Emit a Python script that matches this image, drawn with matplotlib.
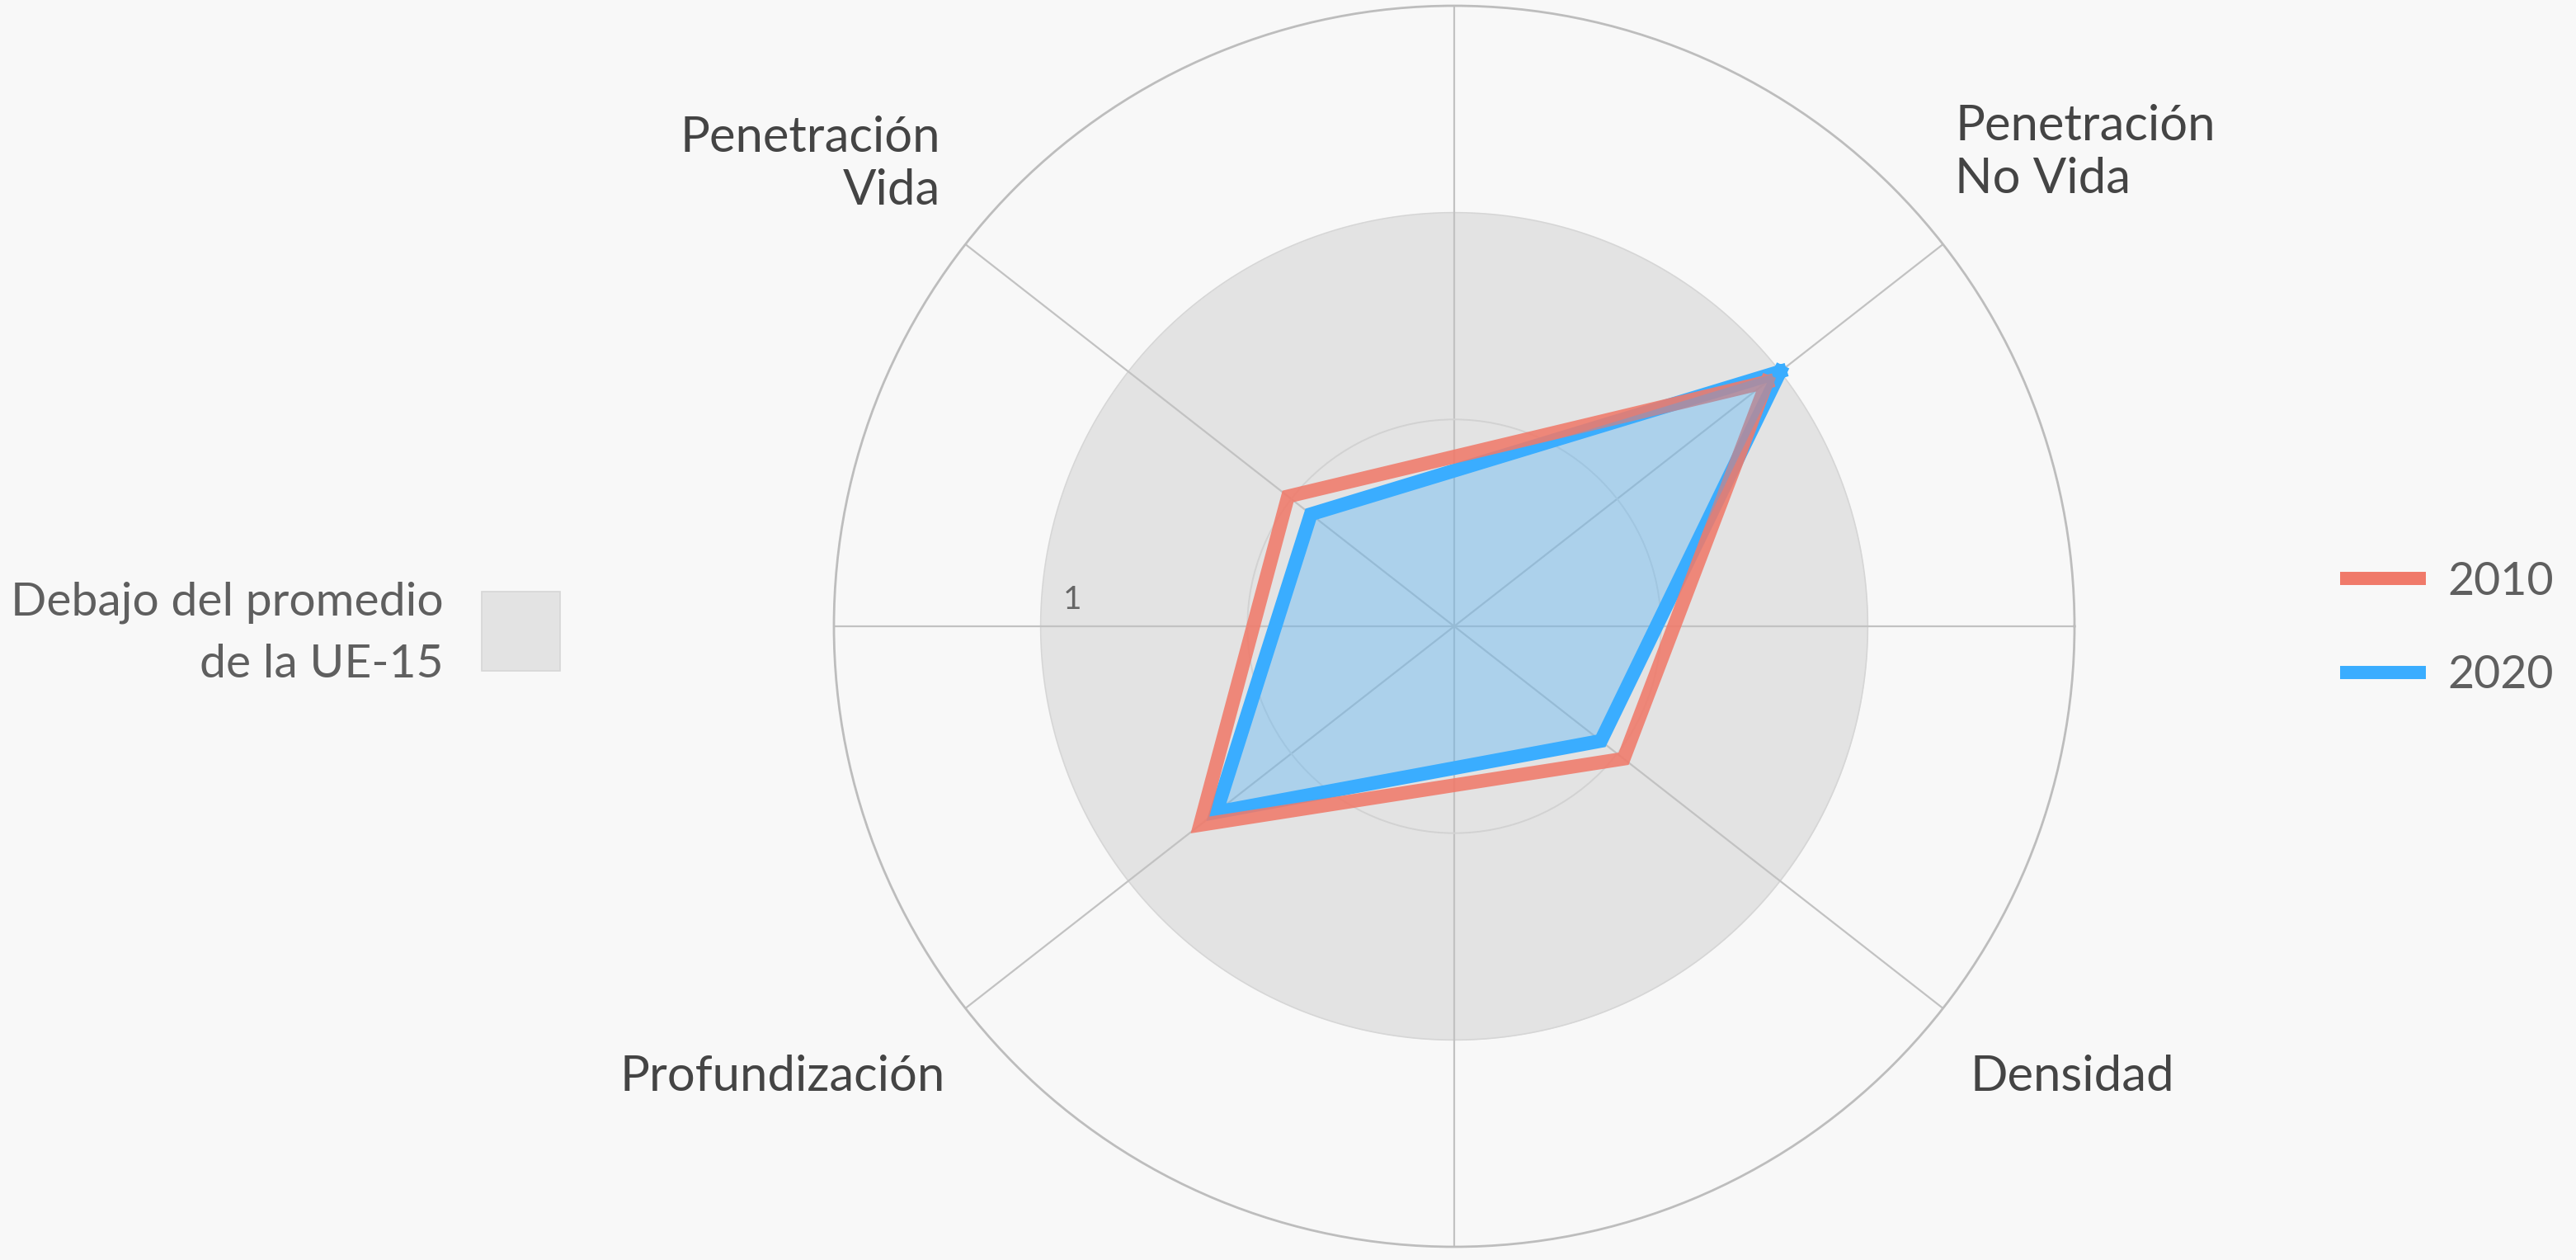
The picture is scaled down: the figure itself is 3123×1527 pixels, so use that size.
import numpy as np
import matplotlib
matplotlib.use("Agg")
import matplotlib.pyplot as plt
from matplotlib.lines import Line2D
from matplotlib.patches import Rectangle

plt.rcParams['font.family'] = ['Lato', 'DejaVu Sans']

# categories and their spoke angles (degrees)
categories = ['Penetración\nNo Vida', 'Penetración\nVida', 'Profundización', 'Densidad']
angles_deg = [38, 142, 218, 322]

# values relative to the EU-15 average (1 = average)
vals_2010 = [0.96, 0.51, 0.78, 0.52]
vals_2020 = [1.00, 0.44, 0.73, 0.45]
years = ['2010', '2020']

bg = '#f8f8f8'
red = '#f07a6a'
blue = '#3aadff'

W, H = 3123, 1527
fig = plt.figure(figsize=(W / 100, H / 100), dpi=100, facecolor=bg)

cx, cy, R = 1763, 759, 752
ax = fig.add_axes([(cx - R) / W, (H - cy - R) / H, 2 * R / W, 2 * R / H], projection='polar')
ax.set_facecolor(bg)
ax.set_ylim(0, 1.5)
ax.set_axisbelow('line')

# grey disk = below EU-15 average
t = np.linspace(0, 2 * np.pi, 400)
ax.fill_between(t, 0, 1.0, color='#e3e3e3', zorder=0.5, linewidth=0)
ax.plot(t, np.ones_like(t), color='#d6d6d6', lw=1.2, zorder=0.6)

spokes = [0, 38, 90, 142, 180, 218, 270, 322]
ax.set_xticks(np.deg2rad(spokes))
ax.set_xticklabels([])
ax.set_yticks([0.5])
ax.set_yticklabels([])
ax.xaxis.grid(True, color='#c2c2c2', lw=1.6)
ax.yaxis.grid(True, color='#d2d2d2', lw=1.4)
ax.spines['polar'].set_color('#bdbdbd')
ax.spines['polar'].set_linewidth(2)
ax.tick_params(length=0)

th = np.deg2rad(angles_deg + angles_deg[:1])
v10 = vals_2010 + vals_2010[:1]
v20 = vals_2020 + vals_2020[:1]

ax.plot(th, v20, color=blue, lw=12, solid_joinstyle='miter', zorder=3)
ax.plot(th, v10, color=red, lw=12, alpha=0.88, solid_joinstyle='miter', zorder=4)
ax.fill(th, v20, color=blue, alpha=0.32, lw=0, zorder=5)

# "1" tick label
fig.text(1300 / W, 1 - 727 / H, '1', fontsize=28, color='#666666', ha='center', va='center')

# category labels
lab = dict(fontsize=43, color='#444444', linespacing=1.25)
fig.text(2370 / W, 1 - 185 / H, categories[0], ha='left', va='center', **lab)
fig.text(1140 / W, 1 - 199 / H, categories[1], ha='right', va='center', multialignment='right', **lab)
fig.text(1146 / W, 1 - 1305 / H, categories[2], ha='right', va='center', **lab)
fig.text(2388 / W, 1 - 1305 / H, categories[3], ha='left', va='center', **lab)

# left legend: grey area
fig.text(538 / W, 1 - 768 / H, 'Debajo del promedio\nde la UE-15', ha='right', va='center',
         multialignment='right', fontsize=41, color='#5f5f5f', linespacing=1.58)
fig.add_artist(Rectangle((584 / W, 1 - 813 / H), 95 / W, 96 / H, transform=fig.transFigure,
                         facecolor='#e3e3e3', edgecolor='#d6d6d6', lw=1.2))

# right legend: years
handles = [Line2D([], [], color=red, lw=11.5), Line2D([], [], color=blue, lw=11.5)]
fig.legend(handles, years, loc='center left', bbox_to_anchor=(2795 / W, 1 - 762 / H),
           frameon=False, fontsize=40, handlelength=1.58, handletextpad=0.62,
           labelspacing=1.12, labelcolor='#5f5f5f')

fig.savefig('out.png', dpi=100, facecolor=bg)
